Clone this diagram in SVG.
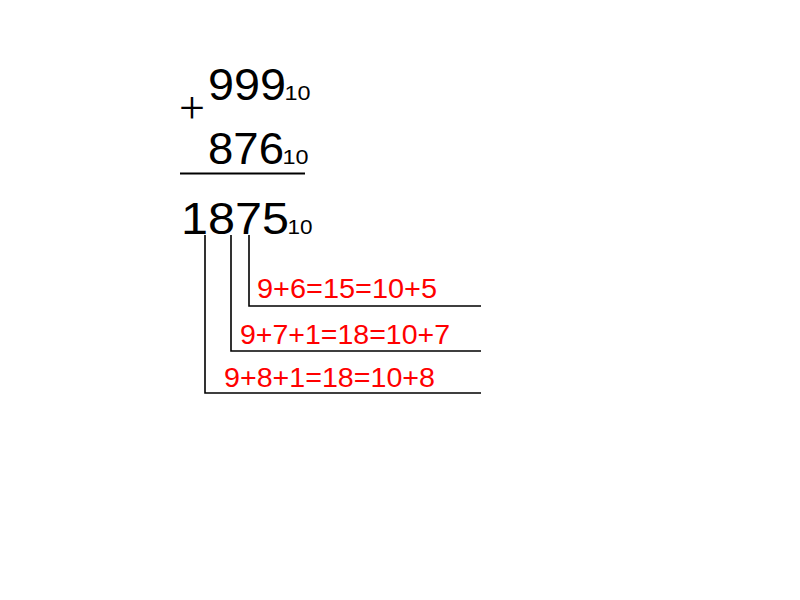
<svg xmlns="http://www.w3.org/2000/svg" width="800" height="600" viewBox="0 0 800 600">
<style>
.num{font-family:"Liberation Sans",Arial,sans-serif;font-size:45px;fill:#000}
.sub{font-family:"Liberation Sans",Arial,sans-serif;font-size:21px;fill:#000}
.red{font-family:"Liberation Sans",Arial,sans-serif;font-size:28px;fill:#FF0000}
.ln{stroke:#000;stroke-width:1.6;fill:none}
</style>
<rect width="800" height="600" fill="#fff"/>
<g id="addend1">
<text class="num" x="208" y="100" textLength="78" lengthAdjust="spacingAndGlyphs">999</text>
<text class="sub" x="284.5" y="100" textLength="26" lengthAdjust="spacingAndGlyphs">10</text>
</g>
<g id="plus">
<text x="192" y="123" text-anchor="middle" style="font-family:'Liberation Serif','Times New Roman',serif;font-size:46px;fill:#000">+</text>
</g>
<g id="addend2">
<text class="num" x="208" y="164" textLength="76" lengthAdjust="spacingAndGlyphs">876</text>
<text class="sub" x="282.5" y="164" textLength="26" lengthAdjust="spacingAndGlyphs">10</text>
</g>
<line class="ln" x1="180" y1="173.5" x2="305" y2="173.5" style="stroke-width:2"/>
<g id="sum">
<text class="num" x="181" y="234" textLength="108" lengthAdjust="spacingAndGlyphs">1875</text>
<text class="sub" x="287.5" y="234" textLength="25" lengthAdjust="spacingAndGlyphs">10</text>
</g>
<g id="connectors">
<polyline class="ln" points="249,235 249,306 481,306"/>
<polyline class="ln" points="231,235 231,351 481,351"/>
<polyline class="ln" points="205,235 205,393 481,393"/>
</g>
<g id="step1"><text class="red" x="257" y="298" textLength="180" lengthAdjust="spacingAndGlyphs">9+6=15=10+5</text></g>
<g id="step2"><text class="red" x="240" y="344" textLength="210" lengthAdjust="spacingAndGlyphs">9+7+1=18=10+7</text></g>
<g id="step3"><text class="red" x="224" y="387" textLength="211" lengthAdjust="spacingAndGlyphs">9+8+1=18=10+8</text></g>
</svg>
